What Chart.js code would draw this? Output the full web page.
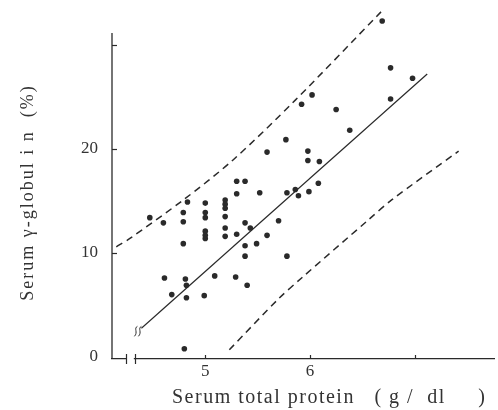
<!DOCTYPE html>
<html>
<head>
<meta charset="utf-8">
<script src="https://cdn.jsdelivr.net/npm/chart.js@4.4.0/dist/chart.umd.min.js"></script>
<style>
html, body { margin: 0; padding: 0; background: #fff; }
#wrap { width: 498px; height: 410px; }
</style>
</head>
<body>
<div id="wrap"><canvas id="globulinChart" width="498" height="410"></canvas></div>
<script>
// serum total protein (g/dl) vs serum gamma-globulin (%)
const proteinX = [
    4.47, 4.60, 4.79, 4.79, 4.79, 4.83, 5.00, 5.00, 5.00, 5.00, 5.00, 5.00,
    5.19, 5.19, 5.19, 5.19, 5.19, 5.19, 5.30, 5.38, 5.30, 5.52, 5.30, 5.38,
    5.43, 5.38, 5.38, 5.49, 5.59, 5.70, 5.78, 5.59, 5.77, 5.78, 5.86, 5.89,
    5.99, 5.98, 5.98, 6.09, 6.08, 5.92, 6.02, 6.25, 6.38, 6.69, 6.77, 6.77,
    6.98, 4.61, 4.81, 4.82, 4.68, 4.82, 4.99, 5.09, 5.29, 5.40, 4.80
];
const globulinY = [
    13.4, 12.9, 13.9, 13.0, 10.9, 14.9, 14.8, 13.9, 13.4, 12.1, 11.7, 11.4,
    15.1, 14.7, 14.3, 13.5, 12.4, 11.6, 16.9, 16.9, 15.7, 15.8, 11.8, 12.9,
    12.4, 10.7, 9.7, 10.9, 11.7, 13.1, 9.7, 19.7, 20.9, 15.8, 16.1, 15.5,
    15.9, 19.8, 18.9, 18.8, 16.7, 24.3, 25.2, 23.8, 21.8, 32.3, 27.8, 24.8,
    26.8, 7.6, 7.5, 6.9, 6.0, 5.7, 5.9, 7.8, 7.7, 6.9, 0.8
];

// regression line
const fitX = [4.39, 7.12];
const fitY = [2.76, 27.21];

// dashed limits
const upperX = [4.15, 4.28, 4.79, 5.26, 5.86, 6.68];
const upperY = [10.6, 11.4, 15.1, 18.9, 24.7, 33.2];
const lowerX = [5.23, 5.70, 5.92, 6.56, 6.78, 7.42];
const lowerY = [0.7, 5.6, 7.6, 13.2, 15.1, 19.8];

// axes
const xTickValues = [5, 6, 7];
const xTickLabels = ['5', '6', ''];
const yTickValues = [0, 10, 20, 30];
const yTickLabels = ['0', '10', '20', ''];
const yAxisTop = 31.15;   // drawn axis stops here, the plot runs a bit higher

const ink = '#2a2a2a';
const serif = "'Liberation Serif', 'DejaVu Serif', serif";

// spacing / nudge for the axis titles
const titleStyle = {
    x: { spacing: '1.5px', dx: 60, dy: 0 },
    y: { spacing: '2px', dx: 0, dy: 8.5 }
};

function toPoints(xs, ys) {
    return xs.map(function(x, i) { return { x: x, y: ys[i] }; });
}

// letter-spaced axis titles
const spacedTitles = {
    id: 'spacedTitles',
    beforeDraw: function(chart) {
        Object.keys(titleStyle).forEach(function(id) {
            const scale = chart.scales[id];
            if (!scale || scale._spaced) return;
            const orig = scale.drawTitle;
            scale.drawTitle = function() {
                const st = titleStyle[id];
                const c = this.ctx;
                c.save();
                c.letterSpacing = st.spacing;
                c.translate(st.dx, st.dy);
                orig.apply(this, arguments);
                c.restore();
            };
            scale._spaced = true;
        });
    }
};

// y axis line, inward ticks, axis break marks and the squiggle on the fit line
const axisMarks = {
    id: 'axisMarks',
    afterDraw: function(chart) {
        const ctx = chart.ctx;
        const xs = chart.scales.x;
        const ys = chart.scales.y;
        const area = chart.chartArea;
        ctx.save();
        ctx.strokeStyle = ink;

        ctx.lineWidth = 1.3;
        ctx.beginPath();
        ctx.moveTo(area.left, area.bottom);
        ctx.lineTo(area.left, ys.getPixelForValue(yAxisTop));
        ctx.stroke();

        ctx.lineWidth = 1.2;
        yTickValues.forEach(function(v) {
            if (v === 0) return;
            const py = Math.round(ys.getPixelForValue(v)) + 0.5;
            ctx.beginPath();
            ctx.moveTo(area.left, py);
            ctx.lineTo(area.left + 5, py);
            ctx.stroke();
        });
        xTickValues.forEach(function(v) {
            const px = Math.round(xs.getPixelForValue(v)) + 0.5;
            ctx.beginPath();
            ctx.moveTo(px, area.bottom);
            ctx.lineTo(px, area.bottom - 4);
            ctx.stroke();
        });

        // break on the x axis
        const b1 = xs.getPixelForValue(4.242);
        const b2 = xs.getPixelForValue(4.327);
        ctx.fillStyle = '#fff';
        ctx.fillRect(b1 + 1, area.bottom - 2, b2 - b1 - 2, 4);
        [b1, b2].forEach(function(px) {
            ctx.beginPath();
            ctx.moveTo(Math.round(px) + 0.5, area.bottom - 5);
            ctx.lineTo(Math.round(px) + 0.5, area.bottom + 5);
            ctx.stroke();
        });

        // squiggle where the fit line starts
        const sx = xs.getPixelForValue(fitX[0]);
        const sy = ys.getPixelForValue(fitY[0]);
        ctx.lineWidth = 1;
        [-6, -2].forEach(function(dx) {
            const cx = sx + dx;
            ctx.beginPath();
            ctx.moveTo(cx + 2, sy - 2);
            ctx.bezierCurveTo(cx - 2, sy, cx + 3, sy + 4, cx - 1, sy + 8);
            ctx.stroke();
        });
        ctx.restore();
    }
};

const ctx = document.getElementById('globulinChart').getContext('2d');
const globulinChart = new Chart(ctx, {
    type: 'scatter',
    data: {
        datasets: [
            {
                label: 'cases',
                data: toPoints(proteinX, globulinY),
                backgroundColor: ink,
                borderWidth: 0,
                pointRadius: 2.8,
                clip: false
            },
            {
                label: 'fit',
                data: toPoints(fitX, fitY),
                showLine: true,
                borderColor: ink,
                borderWidth: 1.2,
                pointRadius: 0,
                clip: false
            },
            {
                label: 'upper',
                data: toPoints(upperX, upperY),
                showLine: true,
                borderColor: ink,
                borderWidth: 1.5,
                borderDash: [7, 5],
                tension: 0.3,
                pointRadius: 0,
                clip: false
            },
            {
                label: 'lower',
                data: toPoints(lowerX, lowerY),
                showLine: true,
                borderColor: ink,
                borderWidth: 1.5,
                borderDash: [7, 5],
                tension: 0.3,
                pointRadius: 0,
                clip: false
            }
        ]
    },
    options: {
        responsive: false,
        animation: false,
        devicePixelRatio: 1,
        layout: { padding: { top: 9, right: 1, left: 0, bottom: 0 } },
        plugins: {
            legend: { display: false },
            tooltip: { enabled: false }
        },
        scales: {
            x: {
                type: 'linear',
                min: 4.109,
                max: 7.758,
                afterBuildTicks: function(scale) {
                    scale.ticks = xTickValues.map(function(v) { return { value: v }; });
                },
                afterFit: function(scale) {
                    scale.height = 51;
                    scale.paddingLeft = 0;
                    scale.paddingRight = 0;
                },
                grid: { display: false, drawTicks: false },
                border: { display: true, color: ink, width: 1.3 },
                ticks: {
                    padding: 2,
                    color: '#333',
                    font: { family: serif, size: 17 },
                    callback: function(value) {
                        const i = xTickValues.indexOf(value);
                        return i >= 0 ? xTickLabels[i] : '';
                    }
                },
                title: {
                    display: true,
                    text: 'Serum total protein   ( g /  dl     )',
                    align: 'start',
                    color: '#333',
                    font: { family: serif, size: 20 },
                    padding: { top: 0, bottom: 0 }
                }
            },
            y: {
                type: 'linear',
                min: -0.19,
                max: 33.46,
                afterBuildTicks: function(scale) {
                    scale.ticks = yTickValues.map(function(v) { return { value: v }; });
                },
                afterFit: function(scale) {
                    scale.width = 112;
                    scale.paddingTop = 0;
                    scale.paddingBottom = 0;
                },
                grid: { display: false, drawTicks: false },
                border: { display: false },
                ticks: {
                    padding: 14,
                    color: '#333',
                    font: { family: serif, size: 17 },
                    callback: function(value) {
                        const i = yTickValues.indexOf(value);
                        return i >= 0 ? yTickLabels[i] : '';
                    }
                },
                title: {
                    display: true,
                    text: 'Serum \u03b3-globul i n  (%)',
                    color: '#333',
                    font: { family: serif, size: 18 },
                    padding: { top: 17, bottom: 0 }
                }
            }
        }
    },
    plugins: [spacedTitles, axisMarks]
});
</script>
</body>
</html>
